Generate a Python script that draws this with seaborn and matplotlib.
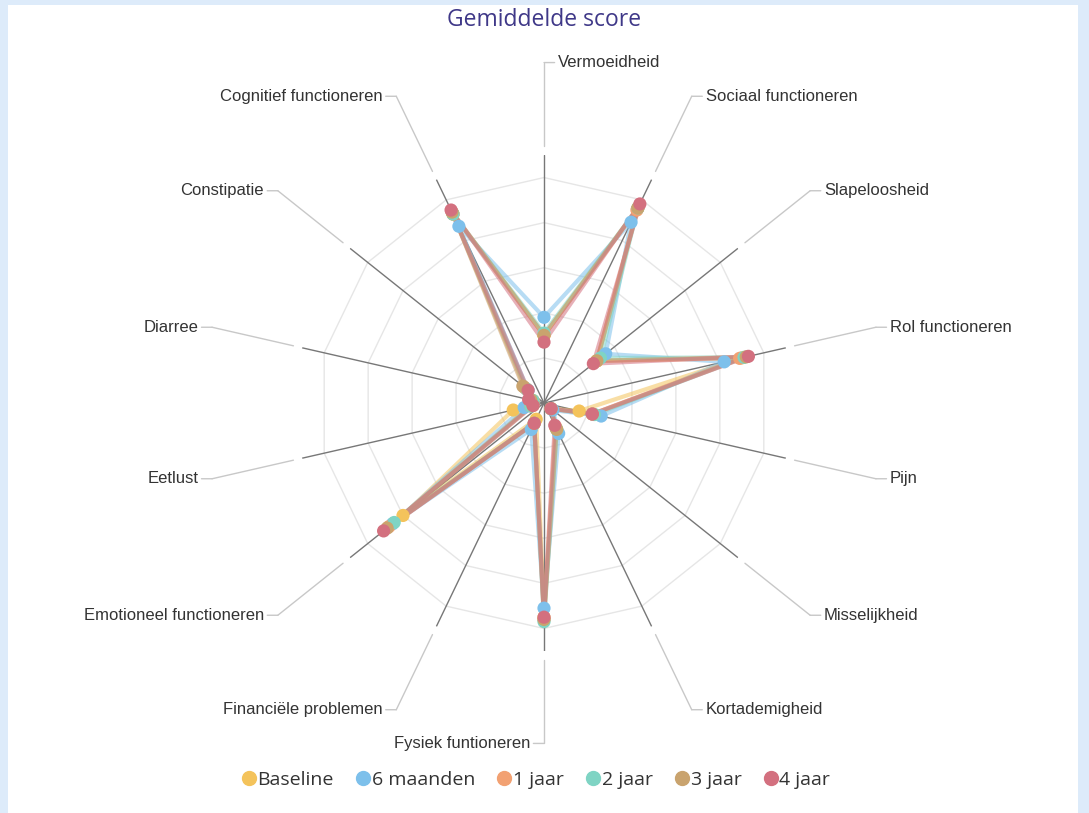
import numpy as np
import pandas as pd
import matplotlib.pyplot as plt
from matplotlib.lines import Line2D
from matplotlib.patches import Rectangle
import seaborn as sns

# --- data (mean scores per scale) ---
categories = ['Vermoeidheid', 'Sociaal functioneren', 'Slapeloosheid', 'Rol functioneren',
              'Pijn', 'Misselijkheid', 'Kortademigheid', 'Fysiek funtioneren',
              'Financiële problemen', 'Emotioneel functioneren', 'Eetlust', 'Diarree',
              'Constipatie', 'Cognitief functioneren']

series_names = ['Baseline', '6 maanden', '1 jaar', '2 jaar', '3 jaar', '4 jaar']

baseline = [30, 96, 30, 90, 16, 4, 12, 95, 8, 80, 14, 5, 10, 93]
maanden_6 = [38, 89, 35, 82, 26, 5, 15, 91, 13, 86, 9, 6, 9, 87]
jaar_1 = [30, 95, 30, 89, 22, 4, 12, 96, 10, 88, 6, 6, 11, 93]
jaar_2 = [31, 96, 32, 91, 23, 4, 13, 97, 10, 85, 6, 5, 10, 93]
jaar_3 = [30, 96, 30, 92, 22, 4, 13, 96, 10, 89, 5, 6, 12, 94]
jaar_4 = [27, 98, 28, 93, 22, 4, 11, 95, 10, 91, 5, 7, 9, 95]

colors = ['#F4C35B', '#7DC0EB', '#F2A172', '#7FD4C4', '#C9A36E', '#D3707F']
palette = dict(zip(series_names, colors))

# --- build long table ---
n = len(categories)
angles = np.arange(n) * 2 * np.pi / n
rows = []
for name, vals in zip(series_names, [baseline, maanden_6, jaar_1, jaar_2, jaar_3, jaar_4]):
    for a, v in zip(angles, vals):
        rows.append({'serie': name, 'theta': a, 'score': v})
    rows.append({'serie': name, 'theta': 2 * np.pi, 'score': vals[0]})  # close polygon
df = pd.DataFrame(rows)
df_pts = df[df['theta'] < 2 * np.pi]

# --- figure ---
sns.set_style('white')
fig = plt.figure(figsize=(10.89, 8.13), dpi=100)
fig.patch.set_facecolor('#DDEBFA')
fig.add_artist(Rectangle((8 / 1089, 0), 1070 / 1089, 808 / 813, transform=fig.transFigure,
                         facecolor='white', edgecolor='none', zorder=0))

cx, cy, R = 544, 403, 248
ax = fig.add_axes([(cx - R) / 1089, (813 - cy - R) / 813, 2 * R / 1089, 2 * R / 813],
                  projection='polar')
ax.set_theta_zero_location('N')
ax.set_theta_direction(-1)
ax.patch.set_alpha(0)
ax.grid(False)
ax.spines['polar'].set_visible(False)
ax.set_xticks([])
ax.set_yticks([])

rmax = 110
# polygon rings
ring_theta = np.append(angles, 2 * np.pi)
for lvl in [20, 40, 60, 80, 100]:
    ax.plot(ring_theta, [lvl] * (n + 1), color='#e6e6e6', lw=1, zorder=1)
# spokes
for a in angles:
    ax.plot([a, a], [0, rmax], color='#777777', lw=1, zorder=1.5)

# series lines and markers
sns.lineplot(data=df, x='theta', y='score', hue='serie', hue_order=series_names,
             palette=palette, sort=False, estimator=None, lw=3, alpha=0.55,
             legend=False, ax=ax, zorder=2)
sns.scatterplot(data=df_pts, x='theta', y='score', hue='serie', hue_order=series_names,
                palette=palette, s=90, linewidth=0, legend=False, ax=ax, zorder=3)

ax.set_ylim(0, rmax)
ax.set_xlabel('')
ax.set_ylabel('')

# category labels with connectors
r_lab = 151
for i, (a, cat) in enumerate(zip(angles, categories)):
    ax.plot([a, a], [114, r_lab], color='#c8c8c8', lw=1, clip_on=False, zorder=1)
    left_side = i >= n // 2
    ha = 'right' if left_side else 'left'
    off = -10 if left_side else 10
    ax.annotate(cat, xy=(a, r_lab), xytext=(off, 0), textcoords='offset points',
                ha=ha, va='center', fontsize=12, color='#333333',
                family='Liberation Sans', annotation_clip=False,
                arrowprops=dict(arrowstyle='-', color='#c8c8c8', lw=1,
                                shrinkA=0, shrinkB=0))

fig.text(cx / 1089, 1 - 20 / 813, 'Gemiddelde score', ha='center', va='center',
         color='#3f3888', fontsize=16.5, family='Open Sans')

handles = [Line2D([], [], marker='o', ls='', color=c, markersize=10) for c in colors]
fig.legend(handles, series_names, loc='center', bbox_to_anchor=(535 / 1089, 1 - 780 / 813),
           ncol=6, frameon=False, handletextpad=0.0, columnspacing=1.05,
           handlelength=0.9, prop={'family': 'Open Sans', 'size': 14},
           labelcolor='#333333')

fig.savefig('out.png', dpi=100)
